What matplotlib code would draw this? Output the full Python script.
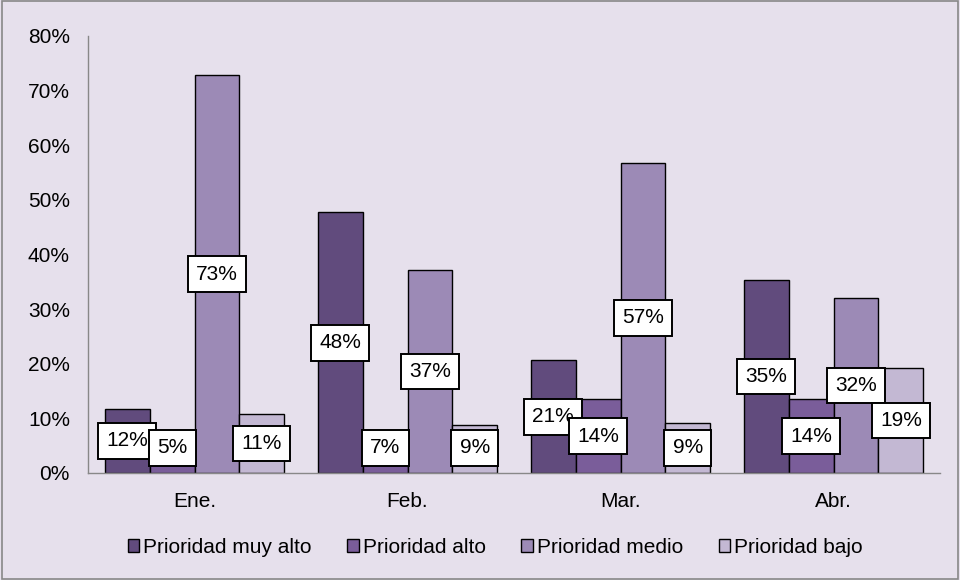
import matplotlib.pyplot as plt
import numpy as np

plt.rcParams['font.family'] = ['Liberation Sans', 'DejaVu Sans']

meses = ['Ene.', 'Feb.', 'Mar.', 'Abr.']
series = ['Prioridad muy alto', 'Prioridad alto', 'Prioridad medio', 'Prioridad bajo']
muy_alto = [11.8, 47.7, 20.6, 35.3]
alto = [5.0, 7.0, 13.5, 13.5]
medio = [72.8, 37.1, 56.8, 32.0]
bajo = [10.8, 8.8, 9.1, 19.2]
etiquetas = [['12%', '48%', '21%', '35%'],
             ['5%', '7%', '14%', '14%'],
             ['73%', '37%', '57%', '32%'],
             ['11%', '9%', '9%', '19%']]

colores = ['#614B7D', '#7A5D9A', '#9C8AB6', '#C3B8D3']
fondo = '#E6E0EC'

fig = plt.figure(figsize=(9.6, 5.8), dpi=100, facecolor=fondo)
ax = fig.add_axes([0.0917, 0.1845, 0.8875, 0.7535])
ax.set_facecolor(fondo)

x = np.arange(len(meses))
w = 0.211
datos = [muy_alto, alto, medio, bajo]
for i, (serie, vals) in enumerate(zip(series, datos)):
    pos = x + (i - 1.5) * w
    ax.bar(pos, vals, width=w, color=colores[i], edgecolor='black', linewidth=1.0,
           label=serie, zorder=2)
    for px, v, t in zip(pos, vals, etiquetas[i]):
        ax.text(px, max(v / 2, 4.6), t, ha='center', va='center', fontsize=15, zorder=4,
                bbox=dict(boxstyle='square,pad=0.4', fc='white', ec='black', lw=1.4))

ax.set_xlim(-0.5, 3.5)
ax.set_ylim(0, 80)
ax.set_yticks(range(0, 81, 10))
ax.set_yticklabels([f'{v}%' for v in range(0, 81, 10)], fontsize=15)
ax.set_xticks(x)
ax.set_xticklabels(meses, fontsize=15)
ax.tick_params(axis='x', length=0, pad=14)
ax.tick_params(axis='y', length=0, pad=13)
for s in ['top', 'right']:
    ax.spines[s].set_visible(False)
for s in ['left', 'bottom']:
    ax.spines[s].set_color('#888888')
    ax.spines[s].set_linewidth(1.0)

ax.legend(loc='center', bbox_to_anchor=(0.478, -0.17), ncol=4, frameon=False,
          fontsize=15, handlelength=0.55, handleheight=0.55, handletextpad=0.2,
          columnspacing=1.7)

fig.patches.append(plt.Rectangle((0.002, 0.002), 0.996, 0.996, transform=fig.transFigure,
                                 fill=False, ec='#888888', lw=1.2))

fig.savefig('out.png', dpi=100, facecolor=fondo)
